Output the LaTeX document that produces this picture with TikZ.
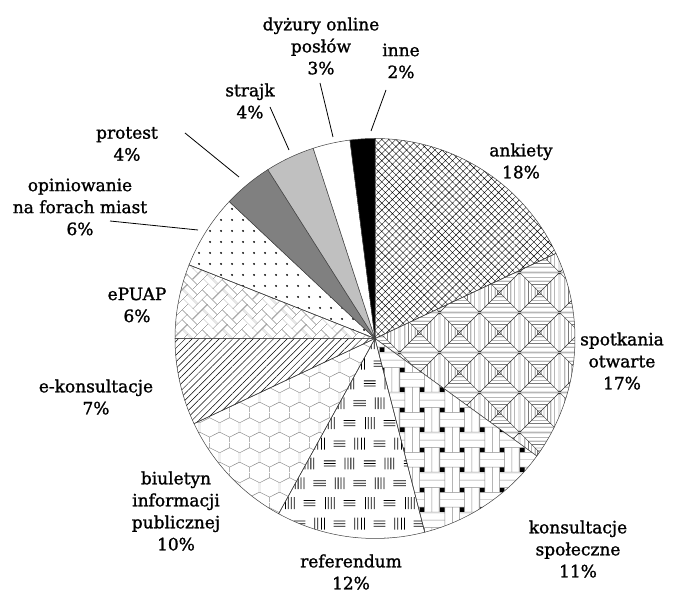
\documentclass[tikz,border=0pt]{standalone}
\usepackage{fontspec}
\setmainfont{DejaVu Serif}[FakeBold=1.3]
\usetikzlibrary{patterns,patterns.meta}
\definecolor{protestgray}{HTML}{808080}
\definecolor{strajkgray}{HTML}{C0C0C0}
\definecolor{texgray}{HTML}{8C8C8C}

% square pyramids with nested frames
\tikzdeclarepattern{
  name=pyramids, type=colored,
  bounding box={(0pt,0pt) and (40pt,40pt)},
  tile size={(40pt,40pt)},
  code={
    \tikzset{x=1pt,y=1pt}
    \draw[line width=0.4pt, black!80] (0,0) rectangle (40,40) (0,0) -- (40,40) (0,40) -- (40,0);
    \foreach \h in {2,4.5,8,11.5,15}
      \draw[line width=0.4pt, black!80] (20-\h,20-\h) rectangle (20+\h,20+\h);
  }
}
% woven strips with black gaps
\tikzdeclarepattern{
  name=weave, type=colored,
  bounding box={(0pt,0pt) and (40pt,40pt)},
  tile size={(40pt,40pt)},
  code={
    \tikzset{x=1pt,y=1pt}
    \fill[black] (0,0) rectangle (5,5) (20,0) rectangle (25,5) (0,20) rectangle (5,25) (20,20) rectangle (25,25);
    \filldraw[fill=white, draw=texgray, line width=0.5pt]
      (0,5) rectangle (25,20) (25,0) rectangle (40,25)
      (5,20) rectangle (20,45) (5,-20) rectangle (20,5)
      (20,25) rectangle (45,40) (-20,25) rectangle (5,40);
    \draw[texgray, line width=0.5pt] (0,12.5) -- (25,12.5) (32.5,0) -- (32.5,25)
      (12.5,20) -- (12.5,45) (12.5,-20) -- (12.5,5) (20,32.5) -- (45,32.5) (-20,32.5) -- (5,32.5);
  }
}
% groups of vertical and horizontal bars
\tikzdeclarepattern{
  name=bargroups, type=colored,
  bounding box={(0pt,0pt) and (40pt,80pt)},
  tile size={(40pt,80pt)},
  code={
    \tikzset{x=1pt,y=1pt}
    \foreach \r in {0,1,2,3}
      \foreach \k in {-40,0,40} {
        \foreach \d in {0.5,3.5,6.5,9.5}
          \draw[black, line width=0.8pt] (10*\r+5+\k+\d,20*\r+4) -- ++(0,12);
        \foreach \d in {1,3.6,6.2}
          \draw[black, line width=0.8pt] (10*\r+24+\k,20*\r+6.4+\d) -- ++(12,0);
      }
  }
}
% thin honeycomb
\tikzdeclarepattern{
  name=honeycomb, type=colored,
  bounding box={(0pt,0pt) and (20pt,30pt)},
  tile size={(20pt,30pt)},
  code={
    \tikzset{x=1pt,y=1pt}
    \draw[texgray, line width=0.5pt] (0,10) -- (10,5) -- (20,10) (0,10) -- (0,20) (20,10) -- (20,20)
      (0,20) -- (10,25) -- (20,20) (10,25) -- (10,30) (10,0) -- (10,5);
  }
}
% thin herringbone
\tikzdeclarepattern{
  name=herringbone, type=colored,
  bounding box={(0pt,0pt) and (28pt,28pt)},
  tile size={(28pt,28pt)},
  tile transformation={rotate=45},
  code={
    \tikzset{x=7pt,y=7pt}
    \foreach \m in {-3,...,3}
      \foreach \k in {-6,...,9} {
        \draw[texgray!85, line width=0.4pt] ({\k+2*\m},{\k-2*\m}) rectangle ++(2,1);
        \draw[texgray!85, line width=0.4pt] ({\k+2+2*\m},{\k-1-2*\m}) rectangle ++(1,2);
      }
  }
}

\tikzset{
  slice/.style={draw=black!75, line width=0.5pt},
  ankfill/.style={pattern={Hatch[angle=45,distance=5pt,line width=0.4pt]}},
  spotfill/.style={pattern=pyramids},
  konsfill/.style={pattern=weave},
  reffill/.style={pattern=bargroups},
  bipfill/.style={pattern=honeycomb},
  ekfill/.style={pattern={Lines[angle=45,distance=4.8pt,line width=0.5pt]}},
  epuapfill/.style={pattern=herringbone},
  opfill/.style={pattern={Dots[distance=10.5pt,radius=1.1pt]}},
  lbl/.style={align=center, font=\fontsize{17}{22}\selectfont},
  leader/.style={line width=0.8pt},
}

\begin{document}
\begin{tikzpicture}[x=1pt,y=1pt]
  \useasboundingbox (0,0) rectangle (675,592);
  \fill[white] (0,0) rectangle (675,592);
  \coordinate (c) at (375,253.5);

  % slices, clockwise from the top
  \draw[slice, ankfill] (c) -- ++(90:200) arc[start angle=90, end angle=25.2, radius=200] -- cycle;
  \draw[slice, spotfill] (c) -- ++(25.2:200) arc[start angle=25.2, end angle=-36, radius=200] -- cycle;
  \draw[slice, konsfill] (c) -- ++(-36:200) arc[start angle=-36, end angle=-75.6, radius=200] -- cycle;
  \draw[slice, reffill] (c) -- ++(-75.6:200) arc[start angle=-75.6, end angle=-118.8, radius=200] -- cycle;
  \draw[slice, bipfill] (c) -- ++(-118.8:200) arc[start angle=-118.8, end angle=-154.8, radius=200] -- cycle;
  \draw[slice, ekfill] (c) -- ++(-154.8:200) arc[start angle=-154.8, end angle=-180, radius=200] -- cycle;
  \draw[slice, epuapfill] (c) -- ++(180:200) arc[start angle=180, end angle=158.4, radius=200] -- cycle;
  \draw[slice, opfill] (c) -- ++(158.4:200) arc[start angle=158.4, end angle=136.8, radius=200] -- cycle;
  \draw[slice, fill=protestgray] (c) -- ++(136.8:200) arc[start angle=136.8, end angle=122.4, radius=200] -- cycle;
  \draw[slice, fill=strajkgray] (c) -- ++(122.4:200) arc[start angle=122.4, end angle=108, radius=200] -- cycle;
  \draw[slice, fill=white] (c) -- ++(108:200) arc[start angle=108, end angle=97.2, radius=200] -- cycle;
  \draw[slice, fill=black] (c) -- ++(97.2:200) arc[start angle=97.2, end angle=90, radius=200] -- cycle;

  % labels
  \node[lbl] (ankiety) at (521,431) {ankiety\\18\%};
  \node[lbl] (spotkania) at (622,231) {spotkania\\otwarte\\17\%};
  \node[lbl] (konsultacje) at (578,43) {konsultacje\\społeczne\\11\%};
  \node[lbl] (referendum) at (351,20) {referendum\\12\%};
  \node[lbl] (biuletyn) at (176,81) {biuletyn\\informacji\\publicznej\\10\%};
  \node[lbl] (ekons) at (96,195) {e-konsultacje\\7\%};
  \node[lbl] (epuap) at (137,287) {ePUAP\\6\%};
  \node[lbl] (opin) at (80,385) {opiniowanie\\na forach miast\\6\%};
  \node[lbl] (protest) at (127,448) {protest\\4\%};
  \node[lbl] (strajk) at (250,491) {strajk\\4\%};
  \node[lbl] (dyzury) at (321,546) {dyżury online\\posłów\\3\%};
  \node[lbl] (inne) at (401,531) {inne\\2\%};

  % leader lines
  \coordinate (inne-a) at (386,502);
  \coordinate (inne-b) at (371,461);
  \coordinate (dyzury-a) at (320,509);
  \coordinate (dyzury-b) at (333,455);
  \coordinate (strajk-a) at (270,485);
  \coordinate (strajk-b) at (289,442);
  \coordinate (protest-a) at (185,459);
  \coordinate (protest-b) at (239,415);
  \coordinate (opin-a) at (110,371);
  \coordinate (opin-b) at (198,362);
  \draw[leader] (inne-a) -- (inne-b);
  \draw[leader] (dyzury-a) -- (dyzury-b);
  \draw[leader] (strajk-a) -- (strajk-b);
  \draw[leader] (protest-a) -- (protest-b);
  \draw[leader] (opin-a) -- (opin-b);
\end{tikzpicture}
\end{document}
